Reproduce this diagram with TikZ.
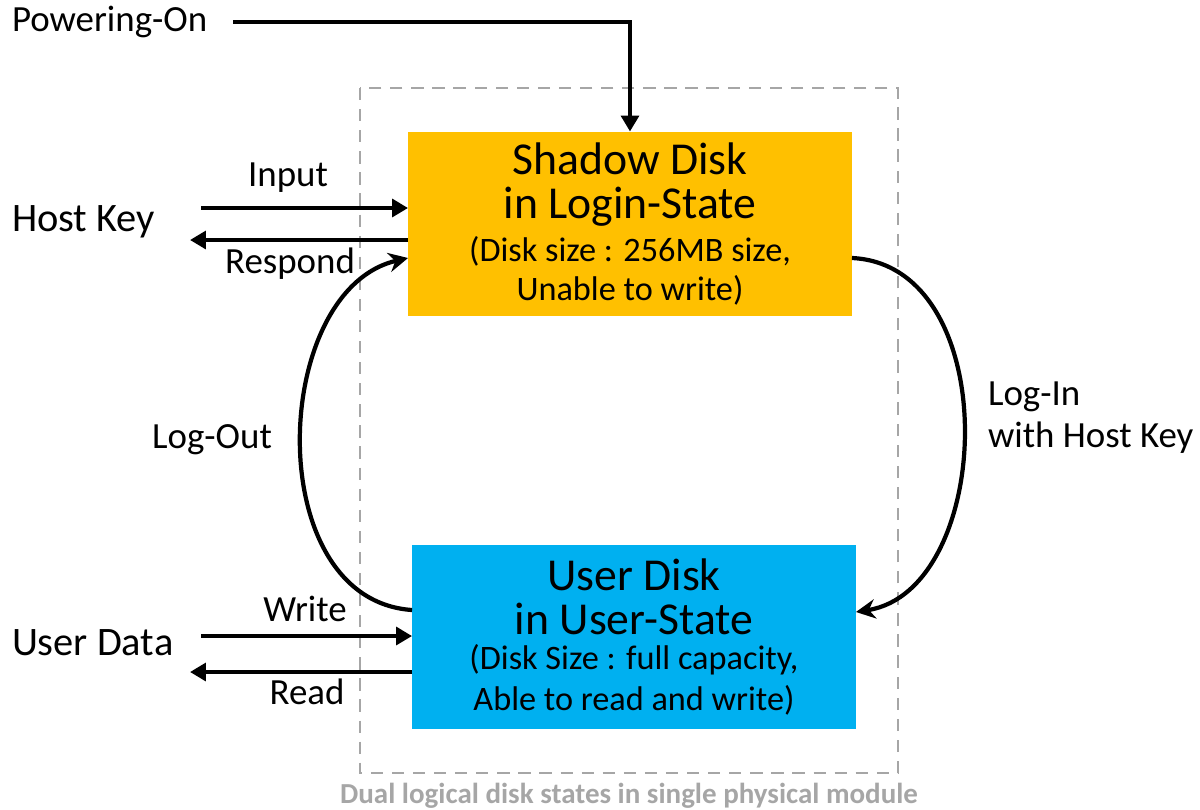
\documentclass[tikz,border=0pt]{standalone}
\usepackage{fontspec}
\setmainfont{Carlito}
\usepackage{xcolor}
\usetikzlibrary{arrows.meta}
\definecolor{shadowcol}{HTML}{FFC000}
\definecolor{usercol}{HTML}{00B0F0}
\definecolor{framegray}{HTML}{A6A6A6}
\newcommand{\disktitle}{\fontsize{26}{26}\selectfont}
\newcommand{\diskinfo}{\fontsize{19.5}{20}\selectfont}

\begin{document}
\begin{tikzpicture}
    [x=0.02cm, y=-0.02cm,
    every node/.style={inner sep=0pt, outer sep=0pt},
    lbl/.style={font=\fontsize{21}{24}\selectfont},
    side/.style={font=\fontsize{23}{26}\selectfont, anchor=west},
    diskbox/.style={rectangle, minimum width=8.88cm, minimum height=3.7cm, align=center},
    arr/.style={line width=2.8pt, -{Triangle[length=9pt, width=10pt]}},
    swing/.style={line width=2.4pt, -{Stealth[length=11pt, width=11pt]}}]

    \useasboundingbox (0,0) rectangle (1200,809);

    % module frame
    \draw[framegray, line width=1.3pt, dash pattern=on 7pt off 5pt] (360,88) rectangle (898,773);
    \node (caption) at (629,796) {\fontsize{16.5}{18}\selectfont\bfseries\color{framegray}Dual logical disk states in single physical module};

    % the two disk states
    \node[diskbox, fill=shadowcol] (shadow) at (630,224)
        {\disktitle Shadow Disk\\[6pt] \disktitle in Login-State\\[4.5pt]
         \diskinfo (Disk size : 256MB size,\\[4.5pt] \diskinfo Unable to write)};
    \node[diskbox, fill=usercol] (user) at (634,637)
        {\disktitle User Disk\\[6pt] \disktitle in User-State\\[4.5pt]
         \diskinfo (Disk Size : full capacity,\\[4.5pt] \diskinfo Able to read and write)};

    % outside
    \node[lbl, anchor=west] (power) at (12,22) {Powering-On};
    \node[side] (host) at (12,222) {Host Key};
    \node[side] (data) at (12,643) {User Data};

    \coordinate (pw0) at (233,22);
    \draw[arr] (pw0) -| (shadow.north);

    \coordinate (in0) at (201,208);
    \coordinate (re0) at (190,240);
    \draw[arr] (in0) -- (in0 -| shadow.west);
    \draw[arr] (re0 -| shadow.west) -- (re0);
    \node[lbl] (input) at (288,178) {Input};
    \node[lbl] (respond) at (290,264) {Respond};

    \coordinate (wr0) at (201,636);
    \coordinate (rd0) at (190,672);
    \draw[arr] (wr0) -- (wr0 -| user.west);
    \draw[arr] (rd0 -| user.west) -- (rd0);
    \node[lbl] (write) at (305,609) {Write};
    \node[lbl] (read) at (307,692) {Read};

    % state changes
    \draw[swing] (user.west |- 0,610) .. controls (260,600) and (270,290) .. (shadow.west |- 0,258);
    \node[lbl] (logout) at (212,440) {Log-Out};
    \draw[swing] (shadow.east |- 0,258) .. controls (1005,265) and (995,590) .. (user.east |- 0,612);
    \node[lbl, anchor=west, align=left] (login) at (988,418) {Log-In\\ with Host Key};
\end{tikzpicture}
\end{document}
